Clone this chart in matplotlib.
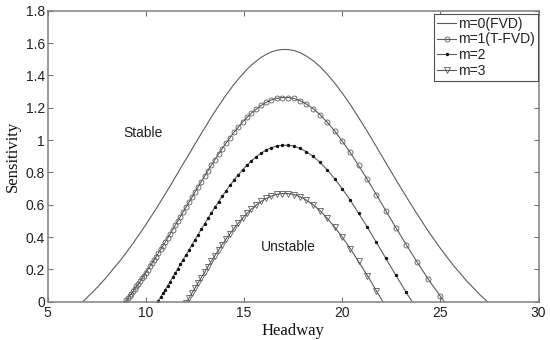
import matplotlib
matplotlib.use('Agg')
import matplotlib.pyplot as plt
from matplotlib.ticker import FormatStrFormatter

# headway / sensitivity
x0 = [6.80, 6.85, 6.90, 6.94, 6.99, 7.04, 7.09, 7.14, 7.19, 7.25, 7.30, 7.35, 7.41, 7.46,
      7.52, 7.58, 7.63, 7.69, 7.75, 7.81, 7.87, 7.94, 8.00, 8.06, 8.13, 8.20, 8.26, 8.33,
      8.40, 8.47, 8.55, 8.62, 8.70, 8.77, 8.85, 8.93, 9.01, 9.09, 9.17, 9.26, 9.35, 9.43,
      9.52, 9.62, 9.71, 9.80, 9.90, 10.00, 10.10, 10.20, 10.31, 10.42, 10.53, 10.64, 10.75,
      10.87, 10.99, 11.11, 11.24, 11.36, 11.49, 11.63, 11.76, 11.90, 12.05, 12.20, 12.35,
      12.50, 12.66, 12.82, 12.99, 13.16, 13.33, 13.51, 13.70, 13.89, 14.08, 14.29, 14.49,
      14.71, 14.93, 15.15, 15.38, 15.63, 15.87, 16.13, 16.39, 16.67, 16.95, 17.24, 17.54,
      17.86, 18.18, 18.52, 18.87, 19.23, 19.61, 20.00, 20.41, 20.83, 21.28, 21.74, 22.22,
      22.73, 23.26, 23.81, 24.39, 25.00, 25.64, 26.32, 27.03, 27.78]
y0 = [0.002, 0.008, 0.013, 0.018, 0.024, 0.030, 0.036, 0.042, 0.048, 0.054, 0.061, 0.067,
      0.074, 0.081, 0.088, 0.096, 0.103, 0.111, 0.119, 0.127, 0.135, 0.144, 0.153, 0.162,
      0.171, 0.181, 0.191, 0.201, 0.211, 0.222, 0.233, 0.244, 0.255, 0.267, 0.280, 0.292,
      0.305, 0.319, 0.332, 0.347, 0.361, 0.376, 0.392, 0.408, 0.424, 0.441, 0.459, 0.477,
      0.496, 0.515, 0.535, 0.555, 0.576, 0.598, 0.620, 0.643, 0.667, 0.691, 0.716, 0.742,
      0.769, 0.796, 0.824, 0.853, 0.883, 0.913, 0.944, 0.975, 1.007, 1.040, 1.073, 1.107,
      1.141, 1.175, 1.210, 1.244, 1.278, 1.312, 1.345, 1.377, 1.408, 1.437, 1.464, 1.489,
      1.511, 1.530, 1.545, 1.555, 1.560, 1.560, 1.554, 1.540, 1.519, 1.491, 1.454, 1.408,
      1.354, 1.291, 1.220, 1.140, 1.053, 0.959, 0.860, 0.756, 0.650, 0.543, 0.435, 0.330,
      0.228, 0.131, 0.041, -0.043]

x1 = [8.93, 9.01, 9.09, 9.17, 9.26, 9.35, 9.43, 9.52, 9.62, 9.71, 9.80, 9.90, 10.00, 10.10,
      10.20, 10.31, 10.42, 10.53, 10.64, 10.75, 10.87, 10.99, 11.11, 11.24, 11.36, 11.49,
      11.63, 11.76, 11.90, 12.05, 12.20, 12.35, 12.50, 12.66, 12.82, 12.99, 13.16, 13.33,
      13.51, 13.70, 13.89, 14.08, 14.29, 14.49, 14.71, 14.93, 15.15, 15.38, 15.63, 15.87,
      16.13, 16.39, 16.67, 16.95, 17.24, 17.54, 17.86, 18.18, 18.52, 18.87, 19.23, 19.61,
      20.00, 20.41, 20.83, 21.28, 21.74, 22.22, 22.73, 23.26, 23.81, 24.39, 25.00, 25.64]
y1 = [-0.005, 0.008, 0.022, 0.035, 0.050, 0.064, 0.079, 0.095, 0.111, 0.127, 0.144, 0.162,
      0.180, 0.199, 0.218, 0.238, 0.258, 0.279, 0.301, 0.323, 0.346, 0.370, 0.394, 0.419,
      0.445, 0.472, 0.499, 0.527, 0.556, 0.586, 0.616, 0.647, 0.678, 0.710, 0.743, 0.776,
      0.810, 0.844, 0.878, 0.913, 0.947, 0.981, 1.015, 1.048, 1.080, 1.111, 1.140, 1.167,
      1.192, 1.214, 1.233, 1.248, 1.258, 1.263, 1.263, 1.257, 1.243, 1.222, 1.194, 1.157,
      1.111, 1.057, 0.994, 0.923, 0.843, 0.756, 0.662, 0.563, 0.459, 0.353, 0.246, 0.138,
      0.033, -0.069]

x2 = [10.53, 10.64, 10.75, 10.87, 10.99, 11.11, 11.24, 11.36, 11.49, 11.63, 11.76, 11.90,
      12.05, 12.20, 12.35, 12.50, 12.66, 12.82, 12.99, 13.16, 13.33, 13.51, 13.70, 13.89,
      14.08, 14.29, 14.49, 14.71, 14.93, 15.15, 15.38, 15.63, 15.87, 16.13, 16.39, 16.67,
      16.95, 17.24, 17.54, 17.86, 18.18, 18.52, 18.87, 19.23, 19.61, 20.00, 20.41, 20.83,
      21.28, 21.74, 22.22, 22.73, 23.26, 23.81]
y2 = [-0.016, 0.006, 0.028, 0.051, 0.075, 0.099, 0.124, 0.150, 0.177, 0.204, 0.232, 0.261,
      0.291, 0.321, 0.352, 0.383, 0.415, 0.448, 0.481, 0.515, 0.549, 0.583, 0.618, 0.652,
      0.686, 0.720, 0.753, 0.785, 0.816, 0.845, 0.872, 0.897, 0.919, 0.938, 0.953, 0.963,
      0.968, 0.968, 0.962, 0.948, 0.927, 0.899, 0.862, 0.816, 0.762, 0.699, 0.628, 0.548,
      0.461, 0.367, 0.268, 0.164, 0.058, -0.049]

x3 = [12.05, 12.20, 12.35, 12.50, 12.66, 12.82, 12.99, 13.16, 13.33, 13.51, 13.70, 13.89,
      14.08, 14.29, 14.49, 14.71, 14.93, 15.15, 15.38, 15.63, 15.87, 16.13, 16.39, 16.67,
      16.95, 17.24, 17.54, 17.86, 18.18, 18.52, 18.87, 19.23, 19.61, 20.00, 20.41, 20.83,
      21.28, 21.74, 22.22]
y3 = [-0.008, 0.022, 0.053, 0.084, 0.116, 0.149, 0.182, 0.216, 0.250, 0.284, 0.319, 0.353,
      0.387, 0.421, 0.454, 0.486, 0.517, 0.546, 0.573, 0.598, 0.620, 0.639, 0.654, 0.664,
      0.669, 0.669, 0.663, 0.649, 0.628, 0.600, 0.563, 0.517, 0.463, 0.400, 0.329, 0.249,
      0.162, 0.068, -0.031]

labels = ['m=0(FVD)', 'm=1(T-FVD)', 'm=2', 'm=3']
x_ticks = [5, 10, 15, 20, 25, 30]
y_ticks = [0, 0.2, 0.4, 0.6, 0.8, 1.0, 1.2, 1.4, 1.6, 1.8]

plt.rcParams['font.family'] = ['Liberation Sans', 'DejaVu Sans']
line_col = '#5c5c5c'

fig = plt.figure(figsize=(5.5, 3.4), dpi=100)
ax = fig.add_axes((0.0867, 0.1126, 0.8925, 0.8559))

ax.plot(x0, y0, color=line_col, lw=0.8, label=labels[0])
ax.plot(x1, y1, color=line_col, lw=0.8, marker='o', ms=3.6, mfc='none', mec=line_col,
        mew=0.6, label=labels[1])
ax.plot(x2, y2, color=line_col, lw=0.8, marker='.', ms=2.8, mfc='#111111', mec='#111111',
        label=labels[2])
ax.plot(x3, y3, color=line_col, lw=0.8, marker='v', ms=3.8, mfc='none', mec=line_col,
        mew=0.6, label=labels[3])

ax.set_xlim(5, 30)
ax.set_ylim(0, 1.8)
ax.set_xticks(x_ticks)
ax.set_yticks(y_ticks)
ax.yaxis.set_major_formatter(FormatStrFormatter('%g'))
ax.tick_params(direction='in', top=True, right=True, length=3.5, width=0.8,
               color='#707070', labelsize=10, labelcolor='#222222')
ax.tick_params(axis='x', pad=3)
ax.tick_params(axis='y', pad=2)
for s in ax.spines.values():
    s.set_color('#808080')
    s.set_linewidth(1.1)

ax.set_xlabel('Headway', family='Liberation Serif', fontsize=12, labelpad=2, color='#111111')
ax.set_ylabel('Sensitivity', family='Liberation Serif', fontsize=12, labelpad=3,
              color='#111111')

ax.text(9.87, 1.045, 'Stable', ha='center', va='center', fontsize=10, color='#222222')
ax.text(17.26, 0.34, 'Unstable', ha='center', va='center', fontsize=10, color='#222222')

leg = ax.legend(loc='upper right', bbox_to_anchor=(0.9986, 0.9887), borderaxespad=0,
                fontsize=10, handlelength=1.4, handletextpad=0.15, labelspacing=0.12,
                borderpad=0.2, fancybox=False, framealpha=1)
leg.get_frame().set_edgecolor('#505050')
leg.get_frame().set_linewidth(0.8)
for t in leg.get_texts():
    t.set_color('#222222')

fig.savefig('out.png')
